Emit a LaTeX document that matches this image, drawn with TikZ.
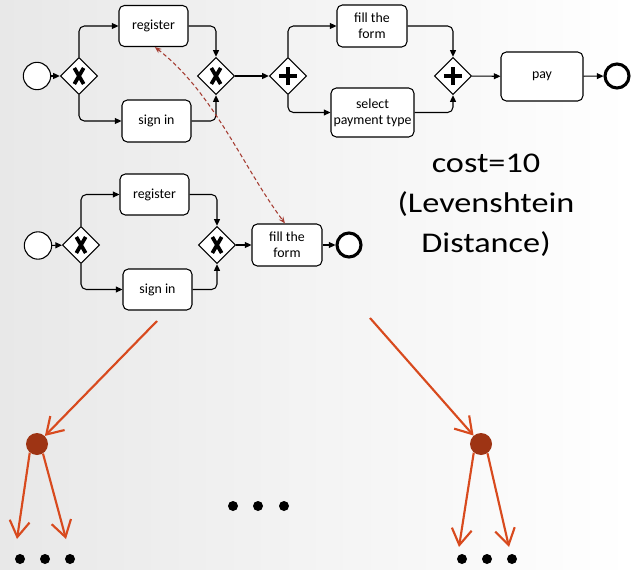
\documentclass[tikz,border=0pt]{standalone}
\usepackage{fontspec}
\usepackage{graphicx}
\setmainfont{Carlito}
\usetikzlibrary{arrows.meta,shapes.geometric}
\definecolor{bgl}{RGB}{232,232,232}
\definecolor{arrowc}{RGB}{216,74,30}
\definecolor{nodec}{RGB}{158,52,20}
\definecolor{dashc}{RGB}{165,60,50}
\begin{document}
\begin{tikzpicture}[x=0.75pt,y=-0.75pt,
  task/.style={draw=black, line width=0.8pt, rounded corners=4pt, fill=white,
    align=center, inner sep=0pt, font=\fontsize{10.4pt}{12pt}\selectfont},
  gate/.style={draw=black, line width=0.8pt, fill=white, diamond, aspect=1,
    minimum width=28pt, minimum height=28pt, inner sep=0pt},
  xgate/.style={gate, path picture={
    \draw[line width=2.8pt] ([shift={(-3.5pt,-6pt)}]path picture bounding box.center) -- ([shift={(3.5pt,6pt)}]path picture bounding box.center);
    \draw[line width=2.8pt] ([shift={(-3.5pt,6pt)}]path picture bounding box.center) -- ([shift={(3.5pt,-6pt)}]path picture bounding box.center);}},
  agate/.style={gate, path picture={
    \draw[line width=3.3pt] ([shift={(-6.8pt,0pt)}]path picture bounding box.center) -- ([shift={(6.8pt,0pt)}]path picture bounding box.center);
    \draw[line width=3.3pt] ([shift={(0pt,-6.8pt)}]path picture bounding box.center) -- ([shift={(0pt,6.8pt)}]path picture bounding box.center);}},
  startev/.style={circle, draw=black, line width=0.8pt, fill=white, minimum size=20.5pt, inner sep=0pt},
  endev/.style={circle, draw=black, line width=2.3pt, fill=white, minimum size=18pt, inner sep=0pt},
  flow/.style={draw=black, line width=0.8pt, rounded corners=4pt, -{Triangle[length=5pt,width=4.5pt]}},
  sim/.style={draw=dashc, line width=0.8pt, dash pattern=on 3pt off 2pt,
    {Stealth[length=5pt,width=4pt]}-{Stealth[length=5pt,width=4pt]}},
  tree/.style={draw=arrowc, line width=1.6pt, -{Straight Barb[length=12pt,width=15pt,line width=1.6pt]}},
  treenode/.style={circle, fill=nodec, minimum size=16.5pt, inner sep=0pt},
  dot/.style={circle, fill=black, minimum size=7.5pt, inner sep=0pt}
]
\useasboundingbox (0,0) rectangle (631,570);
\shade[left color=bgl, right color=white] (0,0) rectangle (631,570);

% ---- top model ----
\node[startev] (s1) at (37,76) {};
\node[xgate] (g1) at (79,76) {};
\node[task, minimum width=51.75pt, minimum height=30.75pt] (reg1) at (153.5,26) {register};
\node[task, minimum width=51.75pt, minimum height=31.5pt] (sin1) at (156.5,121) {sign in};
\node[xgate] (g2) at (216,76) {};
\node[agate] (a1) at (288,76) {};
\node[task, minimum width=52.5pt, minimum height=31.5pt] (fill1) at (372,26) {fill the\\form};
\node[task, minimum width=62.25pt, minimum height=36.75pt] (sel1) at (372.5,112.5) {select\\payment type};
\node[agate] (a2) at (453,76) {};
\node[task, minimum width=61.5pt, minimum height=36.75pt] (pay) at (542,76.5) {pay};
\node[endev] (e1) at (617,76) {};

\draw[flow] (s1) -- (g1);
\draw[flow] (g1.north) |- (reg1.west);
\draw[flow] (g1.south) |- (sin1.west);
\draw[flow] (reg1.east) -| (g2.north);
\draw[flow] (sin1.east) -| (g2.south);
\draw[flow] (g2) -- (a1);
\draw[flow] (a1.north) |- (fill1.west);
\draw[flow] (a1.south) |- (sel1.west);
\draw[flow] (fill1.east) -| (a2.north);
\draw[flow] (sel1.east) -| (a2.south);
\draw[flow] (a2) -- (pay);
\draw[flow] (pay) -- (e1);

% ---- bottom model ----
\node[startev] (s2) at (38,245.5) {};
\node[xgate] (g3) at (81,245) {};
\node[task, minimum width=51.75pt, minimum height=30.75pt] (reg2) at (154.5,194.5) {register};
\node[task, minimum width=51.75pt, minimum height=30.75pt] (sin2) at (157.5,289.5) {sign in};
\node[xgate] (g4) at (217,245) {};
\node[task, minimum width=52.5pt, minimum height=31.5pt] (fill2) at (287,245) {fill the\\form};
\node[endev] (e2) at (349,245) {};

\draw[flow] (s2) -- (g3);
\draw[flow] (g3.north) |- (reg2.west);
\draw[flow] (g3.south) |- (sin2.west);
\draw[flow] (reg2.east) -| (g4.north);
\draw[flow] (sin2.east) -| (g4.south);
\draw[flow] (g4) -- (fill2);
\draw[flow] (fill2) -- (e2);

% ---- dashed correspondence ----
\draw[sim] ([xshift=1pt]reg1.south) .. controls +(59,46) and +(-43,-58) .. ([xshift=-1.5pt]fill2.north);

% ---- cost text ----
\node[align=center, font=\fontsize{21.4pt}{30pt}\selectfont] (cost) at (486,205)
  {\scalebox{1.2}[1]{cost=10}\\\scalebox{1.2}[1]{(Levenshtein}\\\scalebox{1.2}[1]{Distance)}};

% ---- search tree ----
\coordinate (c1) at (157,321);
\coordinate (c2) at (370,318);
\node[treenode] (n1) at (37,444) {};
\node[treenode] (n2) at (481,444) {};
\coordinate (t1) at (17,539);
\coordinate (t2) at (66,539);
\coordinate (t3) at (459,547);
\coordinate (t4) at (509,547);
\draw[tree] (c1) -- (n1);
\draw[tree] (c2) -- (n2);
\draw[tree] (n1.-130) -- (t1);
\draw[tree] (n1.-58) -- (t2);
\draw[tree] (n2.-130) -- (t3);
\draw[tree] (n2.-55) -- (t4);

\node[dot] (d1) at (20,559) {};
\node[dot] (d2) at (45,559) {};
\node[dot] (d3) at (70,559) {};
\node[dot] (d4) at (233,506) {};
\node[dot] (d5) at (258,506) {};
\node[dot] (d6) at (284,506) {};
\node[dot] (d7) at (462,559) {};
\node[dot] (d8) at (487,559) {};
\node[dot] (d9) at (512,559) {};
\end{tikzpicture}
\end{document}
